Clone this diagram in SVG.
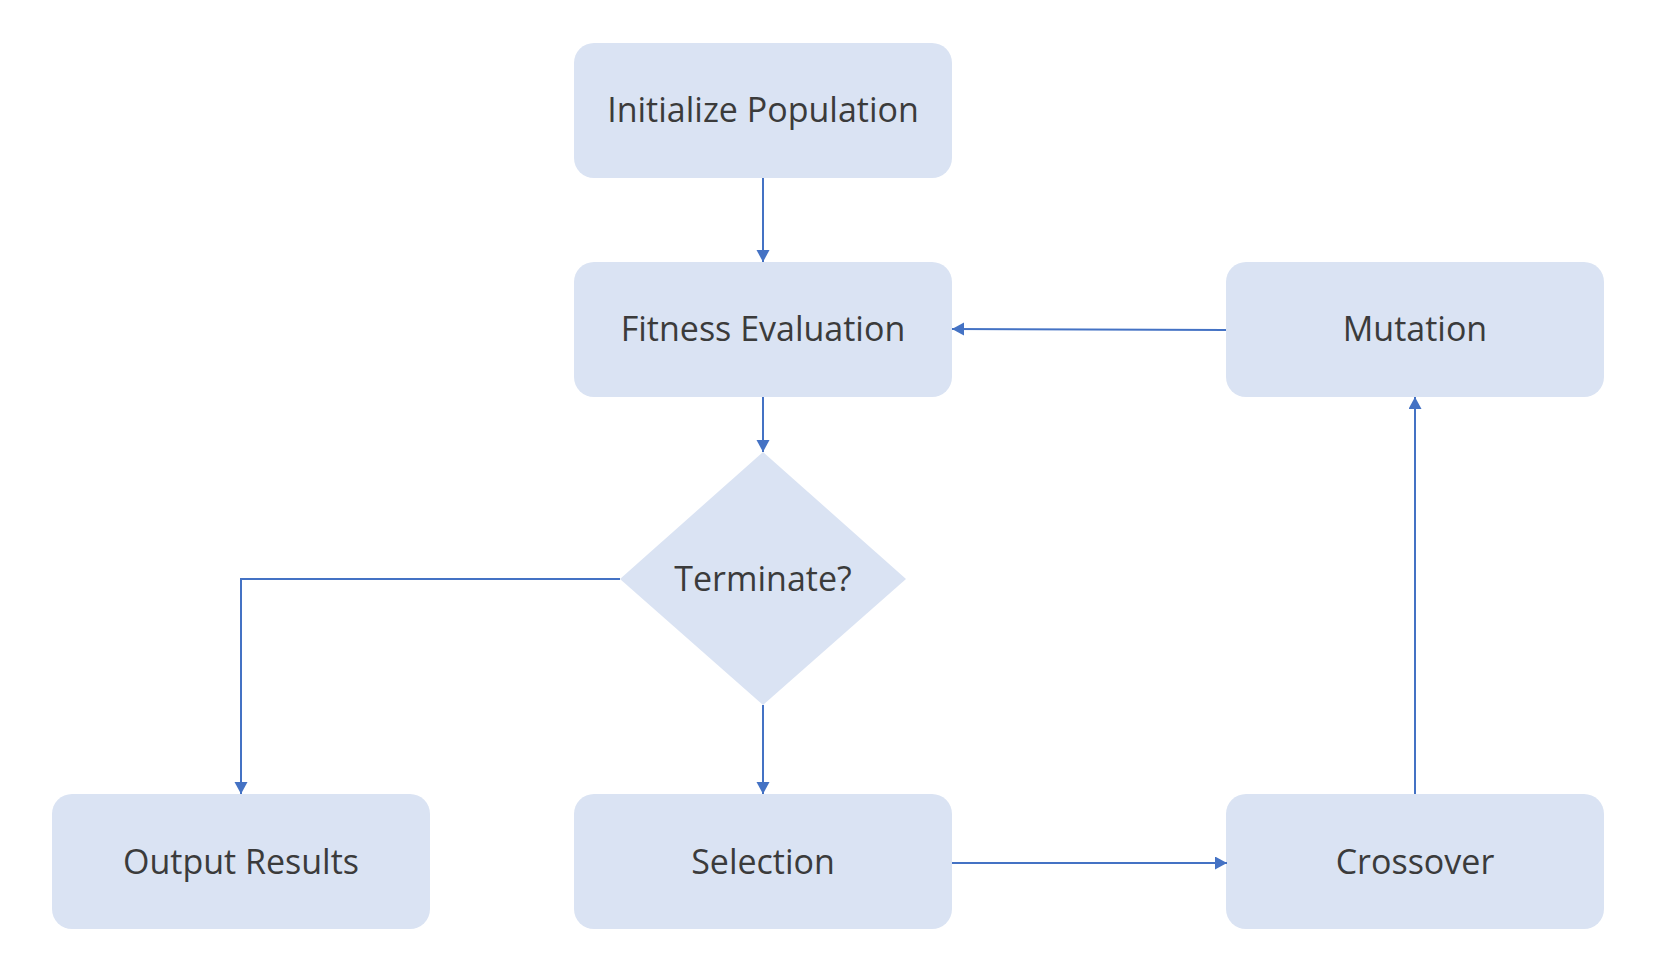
<svg xmlns="http://www.w3.org/2000/svg" width="1672" height="976" viewBox="0 0 1672 976">
  <style>
    .node { fill: #dae3f3; }
    .label { font-family: "Open Sans", "Noto Sans", "Liberation Sans", sans-serif; font-size: 34px; fill: #3b3b3b; text-anchor: middle; }
    .conn { fill: none; stroke: #4472c4; stroke-width: 2; }
  </style>
  <defs>
    <marker id="arrow" markerUnits="userSpaceOnUse" markerWidth="14" markerHeight="14" refX="12" refY="6.5" orient="auto">
      <path d="M0,0 L12,6.5 L0,13 z" fill="#4472c4"/>
    </marker>
  </defs>
  <rect width="1672" height="976" fill="#ffffff"/>
  <g id="init">
    <rect class="node" x="574" y="43" width="378" height="135" rx="20" ry="20"/>
    <text class="label" x="763" y="122">Initialize Population</text>
  </g>
  <g id="fitness">
    <rect class="node" x="574" y="262" width="378" height="135" rx="20" ry="20"/>
    <text class="label" x="763" y="341">Fitness Evaluation</text>
  </g>
  <g id="mutation">
    <rect class="node" x="1226" y="262" width="378" height="135" rx="20" ry="20"/>
    <text class="label" x="1415" y="341">Mutation</text>
  </g>
  <g id="terminate">
    <polygon class="node" points="763,452 906,579 763,705 620,579"/>
    <text class="label" x="763" y="591">Terminate?</text>
  </g>
  <g id="output">
    <rect class="node" x="52" y="794" width="378" height="135" rx="20" ry="20"/>
    <text class="label" x="241" y="874">Output Results</text>
  </g>
  <g id="selection">
    <rect class="node" x="574" y="794" width="378" height="135" rx="20" ry="20"/>
    <text class="label" x="763" y="874">Selection</text>
  </g>
  <g id="crossover">
    <rect class="node" x="1226" y="794" width="378" height="135" rx="20" ry="20"/>
    <text class="label" x="1415" y="874">Crossover</text>
  </g>
  <g id="connectors">
    <path class="conn" d="M763,178 L763,262" marker-end="url(#arrow)"/>
    <path class="conn" d="M763,397 L763,452" marker-end="url(#arrow)"/>
    <path class="conn" d="M620,579 L241,579 L241,794" marker-end="url(#arrow)"/>
    <path class="conn" d="M763,705 L763,794" marker-end="url(#arrow)"/>
    <path class="conn" d="M952,863 L1227,863" marker-end="url(#arrow)"/>
    <path class="conn" d="M1415,794 L1415,397" marker-end="url(#arrow)"/>
    <path class="conn" d="M1226,330 L952,329" marker-end="url(#arrow)"/>
  </g>
</svg>
